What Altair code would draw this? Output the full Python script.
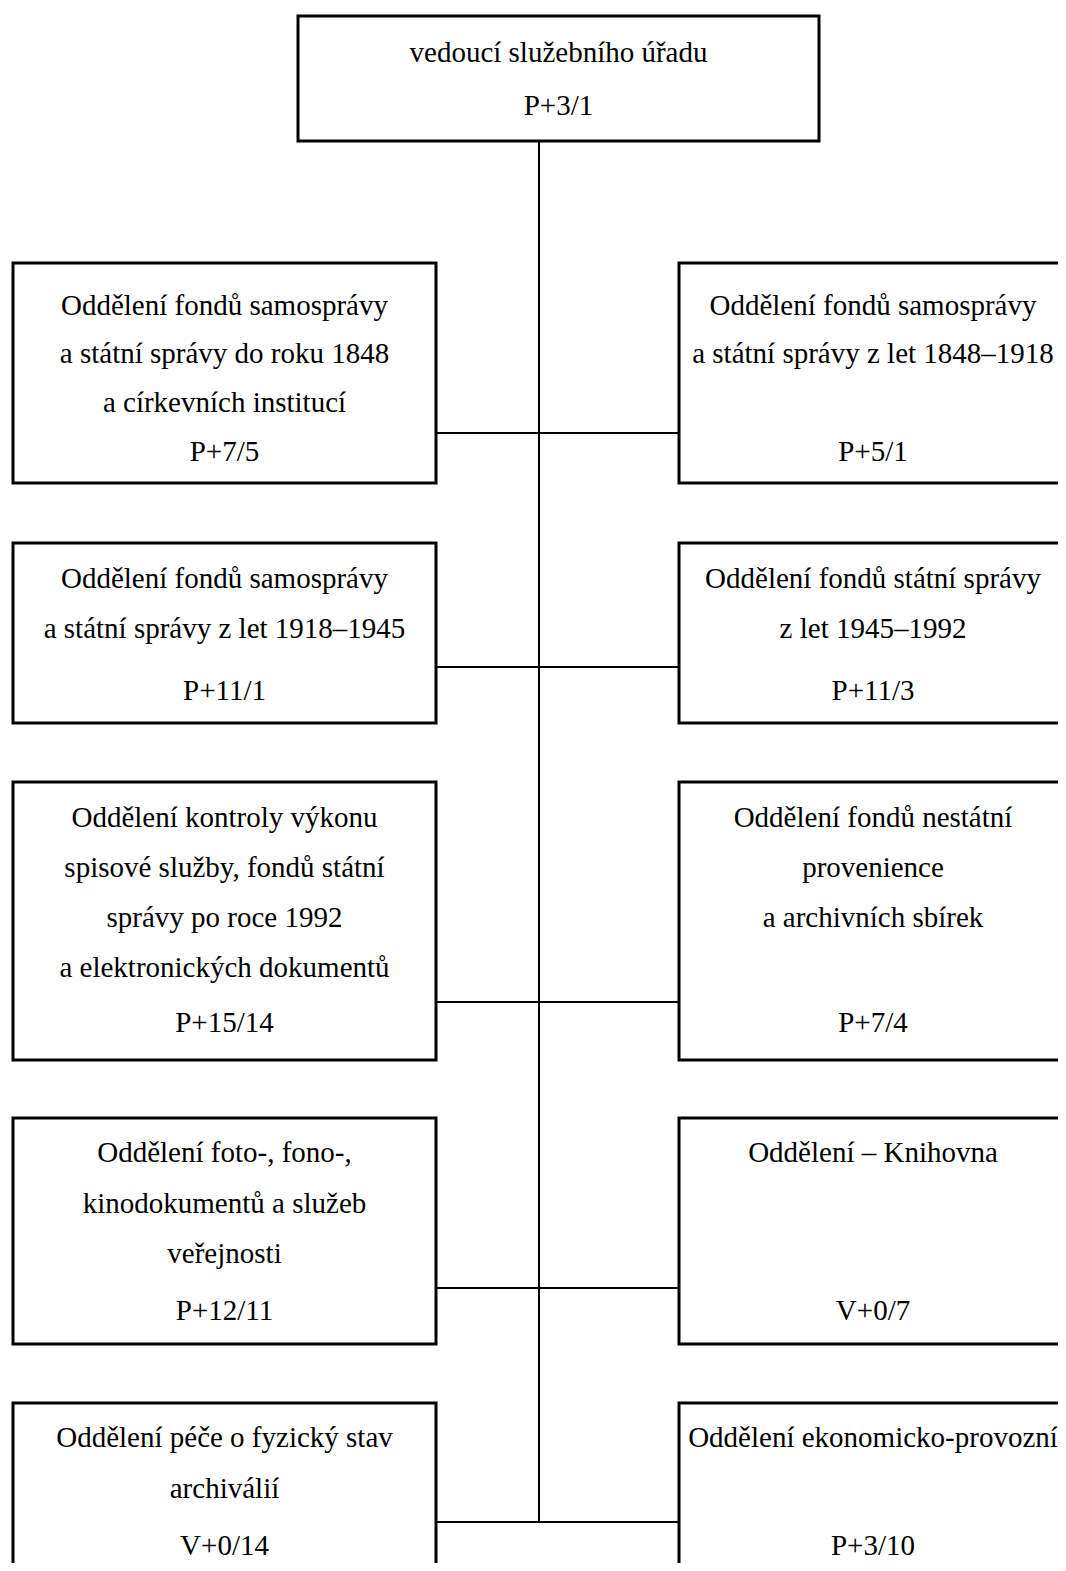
import altair as alt
import pandas as pd

# ---------------- data: labels of the organisational chart ----------------
top_lines = ["vedoucí služebního úřadu", "P+3/1"]

left_names = [
    ["Oddělení fondů samosprávy", "a státní správy do roku 1848", "a církevních institucí"],
    ["Oddělení fondů samosprávy", "a státní správy z let 1918–1945"],
    ["Oddělení kontroly výkonu", "spisové služby, fondů státní",
     "správy po roce 1992", "a elektronických dokumentů"],
    ["Oddělení foto-, fono-,", "kinodokumentů a služeb", "veřejnosti"],
    ["Oddělení péče o fyzický stav", "archiválií"],
]
left_codes = ["P+7/5", "P+11/1", "P+15/14", "P+12/11", "V+0/14"]

right_names = [
    ["Oddělení fondů samosprávy", "a státní správy z let 1848–1918"],
    ["Oddělení fondů státní správy", "z let 1945–1992"],
    ["Oddělení fondů nestátní", "provenience", "a archivních sbírek"],
    ["Oddělení – Knihovna"],
    ["Oddělení ekonomicko-provozní"],
]
right_codes = ["P+5/1", "P+11/3", "P+7/4", "V+0/7", "P+3/10"]

# ---------------- layout (page pixel units, mapped through scales) ----------------
MARGIN = 8
VIEW_X1, VIEW_Y1 = 1058, 1563   # keep the page inside the 1066x1571 window
top_box = (298, 819, 16, 141)
top_baselines = [62, 115]
left_col = (13, 436)
right_col = (679, 1068)
trunk_x = 539
row_box = [(263, 483), (543, 723), (782, 1060), (1118, 1344), (1403, 1650)]
row_link = [433, 667, 1002, 1288, 1522]
row_slots = [
    [315, 363, 412, 461],
    [588, 638, 700],
    [827, 877, 927, 977, 1032],
    [1162, 1213, 1263, 1320],
    [1447, 1498, 1555],
]
left_cx = (left_col[0] + left_col[1]) / 2
right_cx = 873
top_cx = (top_box[0] + top_box[1]) / 2

boxes = [dict(x=top_box[0], x2=top_box[1], y=top_box[2], y2=top_box[3])]
texts = [dict(x=top_cx, y=b, t=s) for b, s in zip(top_baselines, top_lines)]
links = [dict(x=trunk_x, x2=trunk_x, y=top_box[3], y2=row_link[-1])]

for i in range(len(row_box)):
    t, b = row_box[i]
    boxes.append(dict(x=left_col[0], x2=left_col[1], y=t, y2=b))
    boxes.append(dict(x=right_col[0], x2=right_col[1], y=t, y2=b))
    links.append(dict(x=left_col[1], x2=right_col[0], y=row_link[i], y2=row_link[i]))
    slots = row_slots[i]
    for j, s in enumerate(left_names[i]):
        texts.append(dict(x=left_cx, y=slots[j], t=s))
    texts.append(dict(x=left_cx, y=slots[-1], t=left_codes[i]))
    for j, s in enumerate(right_names[i]):
        texts.append(dict(x=right_cx, y=slots[j], t=s))
    texts.append(dict(x=right_cx, y=slots[-1], t=right_codes[i]))

W = VIEW_X1 - MARGIN
H = VIEW_Y1 - MARGIN
xs = alt.Scale(domain=[MARGIN, VIEW_X1], nice=False, zero=False)
ys = alt.Scale(domain=[MARGIN, VIEW_Y1], nice=False, zero=False, reverse=True)

rules = alt.Chart(pd.DataFrame(links)).mark_rule(
    color="black", strokeWidth=2, clip=True
).encode(
    x=alt.X("x:Q", scale=xs, axis=None),
    x2="x2:Q",
    y=alt.Y("y:Q", scale=ys, axis=None),
    y2="y2:Q",
)

rects = alt.Chart(pd.DataFrame(boxes)).mark_rect(
    fill="white", stroke="black", strokeWidth=3, clip=True
).encode(
    x=alt.X("x:Q", scale=xs, axis=None),
    x2="x2:Q",
    y=alt.Y("y:Q", scale=ys, axis=None),
    y2="y2:Q",
)

labels = alt.Chart(pd.DataFrame(texts)).mark_text(
    font="Liberation Serif, Times New Roman, serif", fontSize=29, color="black",
    align="center", baseline="alphabetic", clip=True
).encode(
    x=alt.X("x:Q", scale=xs, axis=None),
    y=alt.Y("y:Q", scale=ys, axis=None),
    text="t:N",
)

chart = alt.layer(rules, rects, labels).properties(
    width=W, height=H, padding=0, background="white"
).configure_view(stroke=None)

chart.save("out.html", embed_options={"renderer": "svg", "actions": False})
